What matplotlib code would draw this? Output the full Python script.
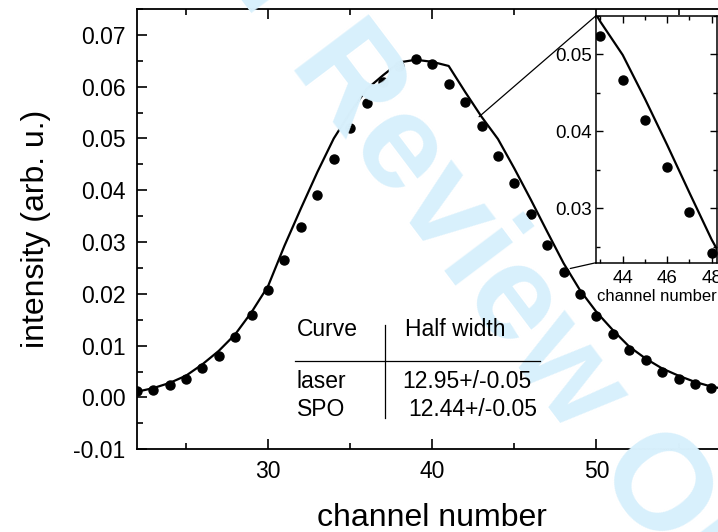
import matplotlib.pyplot as plt
from matplotlib.patches import ConnectionPatch
from matplotlib.ticker import MultipleLocator

plt.rcParams['font.family'] = ['Liberation Sans', 'DejaVu Sans']

# SPO measurement (dots), one per channel
spo_channel = [22, 23, 24, 25, 26, 27, 28, 29, 30, 31, 32, 33, 34, 35, 36, 37, 38, 39,
               40, 41, 42, 43, 44, 45, 46, 47, 48, 49, 50, 51, 52, 53, 54, 55, 56, 57]
spo_intensity = [0.0012, 0.0014, 0.0025, 0.0035, 0.0057, 0.0081, 0.0117, 0.0159, 0.0208,
                 0.0265, 0.0329, 0.0391, 0.0460, 0.0521, 0.0568, 0.0610, 0.0639, 0.0653,
                 0.0644, 0.0605, 0.0570, 0.0524, 0.0467, 0.0414, 0.0354, 0.0295, 0.0242,
                 0.0199, 0.0157, 0.0122, 0.0091, 0.0072, 0.0049, 0.0036, 0.0026, 0.0018]

# laser reference (solid line)
laser_channel = [21, 22, 23, 24, 25, 26, 27, 28, 29, 30, 31, 32, 33, 34, 35, 36, 37, 38, 39,
                 40, 41, 42, 43, 44, 45, 46, 47, 48, 49, 50, 51, 52, 53, 54, 55, 56, 57, 58, 59]
laser_intensity = [0.0007, 0.0011, 0.0018, 0.0028, 0.0042, 0.0064, 0.0090, 0.0122, 0.0165,
                   0.0215, 0.0293, 0.0365, 0.0435, 0.0500, 0.0550, 0.0595, 0.0622, 0.0647,
                   0.0652, 0.0648, 0.0640, 0.0590, 0.0542, 0.0499, 0.0442, 0.0382, 0.0320,
                   0.0259, 0.0207, 0.0165, 0.0130, 0.0098, 0.0075, 0.0056, 0.0042, 0.0030,
                   0.0021, 0.0015, 0.0011]

# half width table
table_header = ['Curve', 'Half width']
table_curves = ['laser', 'SPO']
table_widths = ['12.95+/-0.05', '12.44+/-0.05']

W, H = 718, 532
fig = plt.figure(figsize=(7.18, 5.32), dpi=100)


def px(x, y):
    # pixel position (from top-left) -> figure fraction
    return x / W, 1 - y / H


# watermark
fig.text(*px(482, 262), 'For Review Only', rotation=-53, ha='center', va='center',
         fontsize=98, fontweight='bold', color='#d8f0fc', zorder=0)

ax = fig.add_axes([0.1904, 0.1555, 0.8233, 0.8276])
ax.set_facecolor('none')
ax.plot(laser_channel, laser_intensity, color='black', lw=1.6)
ax.plot(spo_channel, spo_intensity, 'o', color='black', ms=6.5)
ax.set_xlim(22, 58)
ax.set_ylim(-0.01, 0.075)
ax.xaxis.set_major_locator(MultipleLocator(10))
ax.xaxis.set_minor_locator(MultipleLocator(5))
ax.yaxis.set_major_locator(MultipleLocator(0.01))
ax.yaxis.set_minor_locator(MultipleLocator(0.005))
ax.yaxis.set_major_formatter(plt.FormatStrFormatter('%.2f'))
ax.tick_params(which='both', direction='in', top=True, right=False, width=1.2,
               labelsize=16.5, pad=8)
ax.tick_params(which='major', length=7)
ax.tick_params(which='minor', length=4)
for s in ax.spines.values():
    s.set_linewidth(1.3)
ax.set_xlabel('channel number', fontsize=23, labelpad=14)
ax.set_ylabel('intensity (arb. u.)', fontsize=23, labelpad=16)

tf = 16.5
fig.text(*px(297, 330), table_header[0], fontsize=tf, va='center')
fig.text(*px(405, 330), table_header[1], fontsize=tf, va='center')
fig.text(*px(297, 381), table_curves[0], fontsize=tf, va='center')
fig.text(*px(297, 409), table_curves[1], fontsize=tf, va='center')
fig.text(*px(402, 381), table_widths[0], fontsize=tf, va='center')
fig.text(*px(408, 409), table_widths[1], fontsize=tf, va='center')
(x0, y0), (x1, y1) = px(295, 361), px(540, 361)
fig.add_artist(plt.Line2D([x0, x1], [y0, y1], color='black', lw=0.9))
(x0, y0), (x1, y1) = px(385, 325), px(385, 418)
fig.add_artist(plt.Line2D([x0, x1], [y0, y1], color='black', lw=0.9))

# inset
axin = fig.add_axes([0.8301, 0.5062, 0.1685, 0.4643])
axin.plot(laser_channel, laser_intensity, color='black', lw=1.6)
axin.plot(spo_channel, spo_intensity, 'o', color='black', ms=6.5)
axin.set_xlim(42.8, 48.24)
axin.set_ylim(0.0229, 0.0550)
axin.xaxis.set_major_locator(MultipleLocator(2))
axin.xaxis.set_minor_locator(MultipleLocator(1))
axin.yaxis.set_major_locator(MultipleLocator(0.01))
axin.yaxis.set_minor_locator(MultipleLocator(0.005))
axin.yaxis.set_major_formatter(plt.FormatStrFormatter('%.2f'))
axin.tick_params(which='both', direction='in', top=True, right=True, width=1.0,
                 labelsize=13.5, pad=3)
axin.tick_params(axis='x', pad=5)
axin.tick_params(which='major', length=5)
axin.tick_params(which='minor', length=3)
for s in axin.spines.values():
    s.set_linewidth(1.1)
axin.set_xlabel('channel number', fontsize=12, labelpad=2)

for xa, xb in [((42.85, 0.0542), (0, 1)), ((48.4, 0.0249), (0, 0))]:
    con = ConnectionPatch(xyA=xa, coordsA=ax.transData, xyB=xb, coordsB=axin.transAxes,
                          color='black', lw=0.9)
    fig.add_artist(con)

fig.savefig('out.png', dpi=100)
